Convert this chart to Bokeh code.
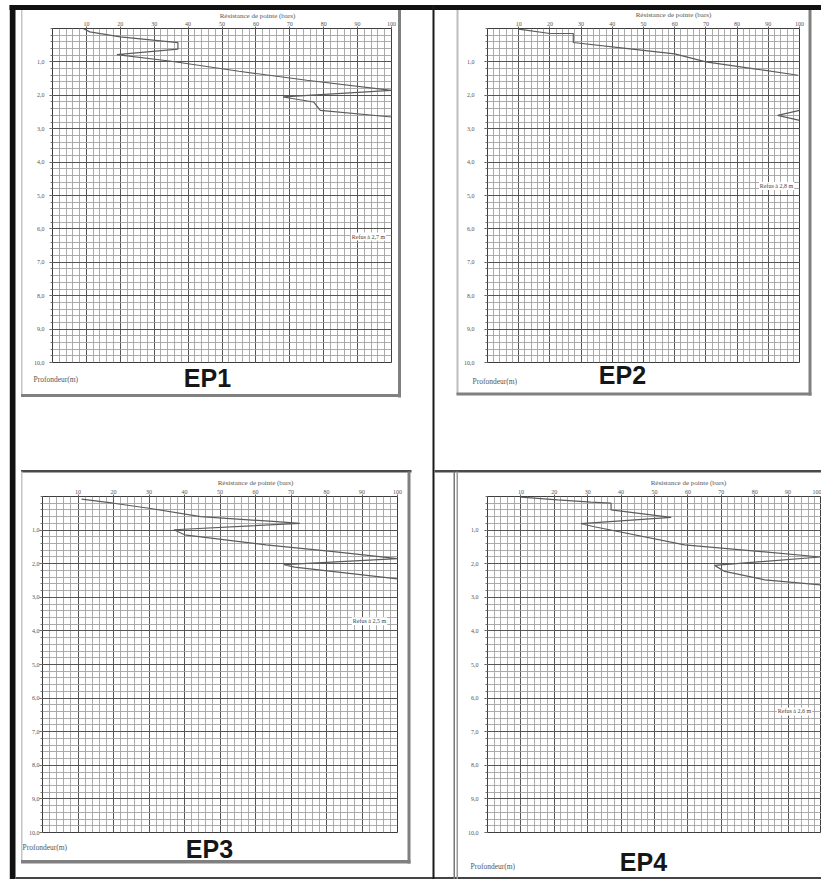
import numpy as np
from bokeh.plotting import figure
from bokeh.models import Range1d, FixedTicker, CustomJSTickFormatter, Label, GridBox
from bokeh.layouts import column, row
from bokeh.core.properties import value
from bokeh.embed import file_html
from bokeh.resources import INLINE

# ---------------- data ----------------
resistance_ticks = [10, 20, 30, 40, 50, 60, 70, 80, 90, 100]
resistance_minor = list(range(0, 101, 2))
depth_ticks = [1, 2, 3, 4, 5, 6, 7, 8, 9, 10]
depth_minor = [round(0.2 * i, 1) for i in range(51)]

x_title = "Résistance de pointe (bars)"
y_title = "Profondeur(m)"
panel_names = ["EP1", "EP2", "EP3", "EP4"]
refus_texts = ["Refus à 2,7 m", "Refus à 2,8 m", "Refus à 2,5 m", "Refus à 2,6 m"]

ep1_resistance = [9, 11, 20, 37, 37, 19, 35, 55, 75, 100, 68, 77, 79, 100]
ep1_depth = [0.0, 0.1, 0.25, 0.42, 0.62, 0.78, 0.98, 1.28, 1.55, 1.85, 2.05, 2.2, 2.45, 2.65]

ep2_resistance = [10, 20, 27.5, 27.5, 45, 60, 70, 85, 99.5, np.nan, 100, 93, 100]
ep2_depth = [0.02, 0.15, 0.15, 0.42, 0.6, 0.76, 1.0, 1.2, 1.4, np.nan, 2.45, 2.6, 2.75]

ep3_resistance = [11, 20, 30, 44.5, 66, 72.5, 37, 40, 63, 82, 100, 68, 71, 100]
ep3_depth = [0.08, 0.2, 0.35, 0.6, 0.75, 0.8, 0.99, 1.14, 1.44, 1.64, 1.85, 2.03, 2.1, 2.45]

ep4_resistance = [10, 21, 31, 37, 37, 55, 28, 32, 59, 83, 99.7, 68, 71, 83, 99.7]
ep4_depth = [0.02, 0.1, 0.17, 0.2, 0.4, 0.62, 0.81, 0.9, 1.44, 1.65, 1.8, 2.05, 2.23, 2.48, 2.63]

series = [(ep1_resistance, ep1_depth), (ep2_resistance, ep2_depth),
          (ep3_resistance, ep3_depth), (ep4_resistance, ep4_depth)]

# ---------------- layout geometry (page pixels) ----------------
W, H = 821, 879
panels = [
    dict(tile=(0, 0, 433, 466), frame=(52, 391, 28, 362), ystand=5, refus=(368, 236)),
    dict(tile=(433, 0, 388, 466), frame=(487, 799, 28, 363), ystand=10, refus=(776, 186)),
    dict(tile=(0, 466, 433, 413), frame=(42, 397, 495, 832), ystand=0, refus=(369, 620)),
    dict(tile=(433, 466, 388, 413), frame=(487, 821, 496, 843), ystand=6, refus=(794, 718)),
]
title_pos = [(257, 15), (673, 14), (255, 482), (688, 482)]
prof_pos = [(33, 379), (472, 381), (22, 847), (470, 866)]
big_pos = [(207, 377), (622, 374), (209, 848), (643, 861)]

# decoration rectangles: (left, right, top, bottom, colour)
decor = [
    (9, 821, 4.5, 9.5, "#111111"),        # top black border
    (9.3, 15, 4.5, 879, "#111111"),       # left black border
    (15, 821, 876.5, 878.5, "#444444"),   # bottom line
    (432, 434, 4.5, 879, "#1a1a1a"),      # vertical divider
    # EP1 card
    (20.5, 22, 9.5, 395, "#c4c4c4"), (397.5, 400.5, 9.5, 397, "#808080"),
    (20.5, 400.5, 393.5, 396.5, "#808080"),
    # EP2 card
    (456, 458, 9.5, 394, "#bdbdbd"), (808, 811, 9.5, 395, "#808080"),
    (456, 811, 392, 395, "#808080"),
    # EP3 card
    (20.5, 411, 469.5, 472, "#4a4a4a"), (20.5, 22, 471, 862, "#c4c4c4"),
    (407, 410, 471, 863, "#808080"), (20.5, 410, 859.5, 863, "#808080"),
    # EP4 card
    (434, 821, 469.5, 472, "#4a4a4a"), (453, 454.5, 471, 879, "#777777"),
    (456, 457.5, 471, 879, "#999999"),
]

SERIF = "Liberation Serif"
SANS = "Liberation Sans"

# ---------------- background sheet ----------------
bg = figure(width=W, height=H, x_range=Range1d(0, W), y_range=Range1d(H, 0),
            x_axis_type=None, y_axis_type=None, min_border=0, outline_line_color=None,
            toolbar_location=None, output_backend="svg", title=None, tools="",
            background_fill_color="white", border_fill_color="white")
bg.quad(left=[d[0] for d in decor], right=[d[1] for d in decor],
        top=[d[2] for d in decor], bottom=[d[3] for d in decor],
        fill_color=[d[4] for d in decor], line_color=None)
bg.text(x=[p[0] for p in title_pos], y=[p[1] for p in title_pos], text=[x_title] * 4,
        text_font=value(SERIF), text_font_size="7px", text_color="#555555",
        text_align="center", text_baseline="middle")
bg.text(x=[p[0] for p in prof_pos], y=[p[1] for p in prof_pos], text=[y_title] * 4,
        text_font=value(SERIF), text_font_size="7.5px", text_color="#555555",
        text_align="left", text_baseline="middle")
bg.text(x=[p[0] for p in big_pos], y=[p[1] for p in big_pos], text=panel_names,
        text_font=value(SANS), text_font_style="bold", text_font_size="25px",
        text_color="#161616", text_align="center", text_baseline="middle")


def make_panel(res, dep, g, refus):
    x0, y0, w, h = g["tile"]
    fl, fr, ft, fb = g["frame"]
    p = figure(width=w, height=h, x_range=Range1d(0, 100), y_range=Range1d(10, 0),
               x_axis_location="above", output_backend="svg", toolbar_location=None,
               title=None, tools="",
               min_border_left=fl - x0, min_border_right=x0 + w - fr,
               min_border_top=ft - y0, min_border_bottom=y0 + h - fb,
               background_fill_color="white", border_fill_alpha=0.0,
               outline_line_color="#3c3c3c", outline_line_width=1)

    xa = p.xaxis[0]
    xa.ticker = FixedTicker(ticks=resistance_ticks, minor_ticks=resistance_minor)
    xa.major_label_text_font_size = "6px"
    xa.major_label_text_font = SERIF
    xa.major_label_text_color = "#555555"
    xa.major_tick_out = 2
    xa.major_tick_in = 0
    xa.minor_tick_out = 0
    xa.minor_tick_in = 0
    xa.major_tick_line_color = "#666666"
    xa.axis_line_color = None
    xa.major_label_standoff = 1

    ya = p.yaxis[0]
    ya.ticker = FixedTicker(ticks=depth_ticks, minor_ticks=depth_minor)
    ya.formatter = CustomJSTickFormatter(code="return tick.toFixed(1).replace('.', ',');")
    ya.major_label_text_font_size = "6px"
    ya.major_label_text_font = SERIF
    ya.major_label_text_color = "#555555"
    ya.major_tick_out = 3
    ya.major_tick_in = 0
    ya.minor_tick_out = 2
    ya.minor_tick_in = 0
    ya.major_tick_line_color = "#555555"
    ya.minor_tick_line_color = "#777777"
    ya.axis_line_color = "#3c3c3c"
    ya.major_label_standoff = g["ystand"]

    for grid in (p.xgrid[0], p.ygrid[0]):
        grid.grid_line_color = "#555555"
        grid.grid_line_width = 1
        grid.minor_grid_line_color = "#a2a2a2"
        grid.minor_grid_line_width = 0.9

    p.line(np.array(res, dtype=float), np.array(dep, dtype=float),
           line_color="#5c5c5c", line_width=1.2)

    rx, ry = g["refus"]
    p.add_layout(Label(x=(rx - fl) / (fr - fl) * 100, y=(ry - ft) / (fb - ft) * 10,
                       text=refus, text_font=SERIF,
                       text_font_size="6px", text_color="#444444",
                       text_align="center", text_baseline="middle",
                       background_fill_color="white", background_fill_alpha=1.0,
                       padding=1))
    return p


figs = [make_panel(s[0], s[1], g, r) for s, g, r in zip(series, panels, refus_texts)]
front = column(row(figs[0], figs[1]), row(figs[2], figs[3]))

layout = GridBox(children=[(bg, 0, 0), (front, 0, 0)], spacing=0)

open("out.html", "w").write(file_html(layout, INLINE))
